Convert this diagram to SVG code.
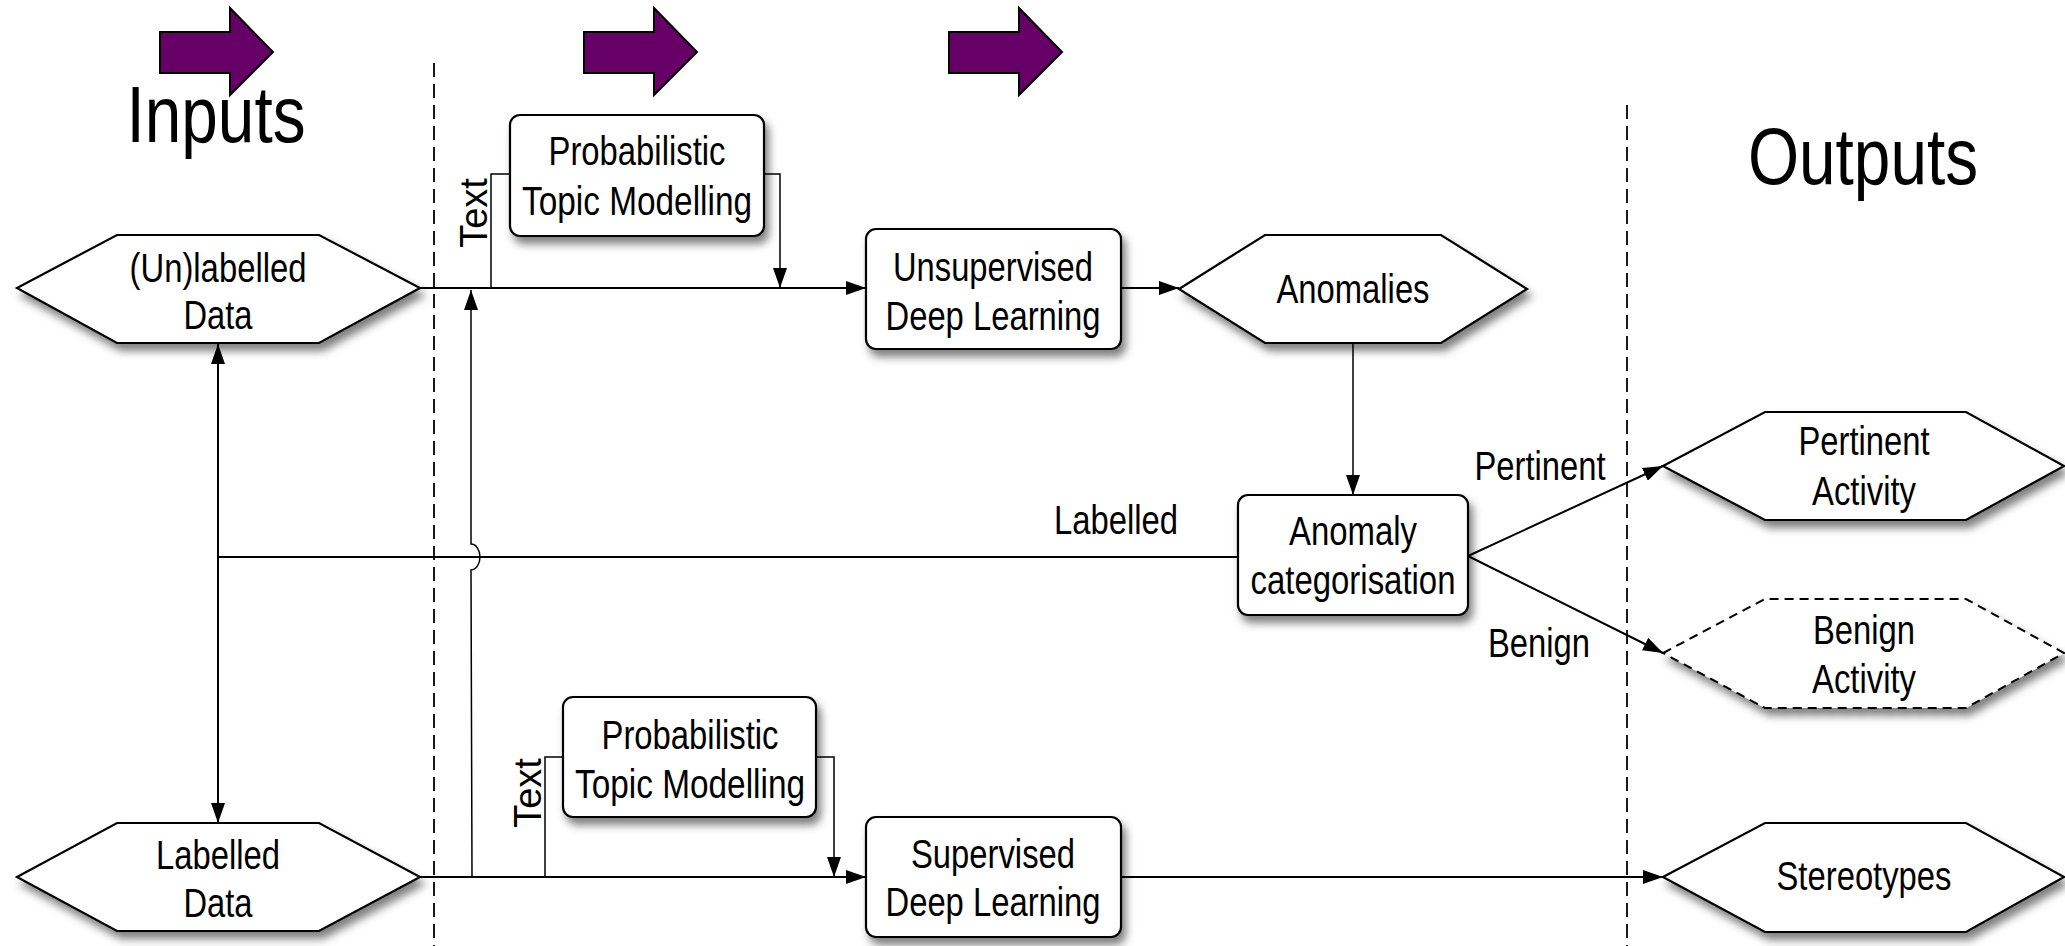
<svg xmlns="http://www.w3.org/2000/svg" width="2065" height="946" viewBox="0 0 2065 946">
<defs>
<style>
.n{fill:#fff;stroke:#000;stroke-width:2.2}
.nd{fill:#fff;stroke:#000;stroke-width:2;stroke-dasharray:9 6}
.t{font-family:"Liberation Sans Narrow","Liberation Sans",Arial,sans-serif;font-size:40px;fill:#000;text-anchor:middle}
.big{font-family:"Liberation Sans Narrow","Liberation Sans",Arial,sans-serif;font-size:80px;fill:#000;text-anchor:middle}
.tx{font-family:"Liberation Sans",Arial,sans-serif;font-size:38px;fill:#000;text-anchor:middle}
.c{fill:none;stroke:#000;stroke-width:2}
.ct{fill:none;stroke:#000;stroke-width:1.5}
.dl{fill:none;stroke:#000;stroke-width:1.8;stroke-dasharray:14 7}
.pa{fill:#660066;stroke:#000;stroke-width:2}
</style>
<filter id="sh" x="-10%" y="-15%" width="130%" height="150%">
<feDropShadow dx="4" dy="7" stdDeviation="4" flood-color="#000" flood-opacity="0.5"/>
</filter>
<marker id="ah" markerUnits="userSpaceOnUse" markerWidth="20" markerHeight="14" refX="20" refY="7" orient="auto-start-reverse">
<path d="M0,0 L20,7 L0,14 z" fill="#000"/>
</marker>
</defs>

<g id="phase-arrows">
<polygon class="pa" points="160,32 230,32 230,8 273,52 230,95 230,73 160,73"/>
<polygon class="pa" points="584,32 654,32 654,8 697,52 654,95 654,73 584,73"/>
<polygon class="pa" points="949,32 1019,32 1019,8 1062,52 1019,95 1019,73 949,73"/>
</g>

<g id="titles">
<text class="big" x="216" y="142" textLength="179" lengthAdjust="spacingAndGlyphs">Inputs</text>
<text class="big" x="1863" y="184" textLength="230" lengthAdjust="spacingAndGlyphs">Outputs</text>
</g>

<g id="dividers">
<line class="dl" x1="434" y1="63" x2="434" y2="946"/>
<line class="dl" x1="1627" y1="105" x2="1627" y2="946"/>
</g>

<g id="connectors">
<line class="c" x1="420" y1="288" x2="866" y2="288" marker-end="url(#ah)"/>
<polyline class="ct" points="491,288 491,174 510,174"/>
<polyline class="ct" points="764,174 780,174 780,288" marker-end="url(#ah)"/>
<line class="c" x1="1121" y1="288" x2="1179" y2="288" marker-end="url(#ah)"/>
<line class="ct" x1="1353" y1="343" x2="1353" y2="495" marker-end="url(#ah)"/>
<line class="c" x1="218" y1="344" x2="218" y2="823" marker-start="url(#ah)" marker-end="url(#ah)"/>
<line class="c" x1="218" y1="557" x2="1238" y2="557"/>
<path class="ct" d="M472,877 L471,570 A9,13 0 0 0 471,544 L471,290" marker-end="url(#ah)"/>
<line class="c" x1="1468" y1="556" x2="1663" y2="466" marker-end="url(#ah)"/>
<line class="c" x1="1468" y1="556" x2="1663" y2="653" marker-end="url(#ah)"/>
<line class="c" x1="420" y1="877" x2="866" y2="877" marker-end="url(#ah)"/>
<polyline class="ct" points="545,877 545,757 563,757"/>
<polyline class="ct" points="816,757 834,757 834,877" marker-end="url(#ah)"/>
<line class="c" x1="1121" y1="877" x2="1663" y2="877" marker-end="url(#ah)"/>
<text class="t" x="1116" y="534" textLength="124" lengthAdjust="spacingAndGlyphs">Labelled</text>
<text class="t" x="1540" y="480" textLength="131" lengthAdjust="spacingAndGlyphs">Pertinent</text>
<text class="t" x="1539" y="657" textLength="102" lengthAdjust="spacingAndGlyphs">Benign</text>
<text class="tx" transform="translate(487,213) rotate(-90)" x="0" y="0">Text</text>
<text class="tx" transform="translate(541,793) rotate(-90)" x="0" y="0">Text</text>
</g>

<g id="unlabelled-data">
<polygon class="n" filter="url(#sh)" points="17,288 117,235 319,235 420,288 319,343 117,343"/>
<text class="t" x="218" y="282" textLength="177" lengthAdjust="spacingAndGlyphs">(Un)labelled</text>
<text class="t" x="218" y="329" textLength="69" lengthAdjust="spacingAndGlyphs">Data</text>
</g>

<g id="labelled-data">
<polygon class="n" filter="url(#sh)" points="17,877 117,823 319,823 420,877 319,931 117,931"/>
<text class="t" x="218" y="869" textLength="124" lengthAdjust="spacingAndGlyphs">Labelled</text>
<text class="t" x="218" y="917" textLength="69" lengthAdjust="spacingAndGlyphs">Data</text>
</g>

<g id="ptm-top">
<rect class="n" filter="url(#sh)" x="510" y="115" width="254" height="121" rx="10"/>
<text class="t" x="637" y="165" textLength="177" lengthAdjust="spacingAndGlyphs">Probabilistic</text>
<text class="t" x="637" y="215" textLength="230" lengthAdjust="spacingAndGlyphs">Topic Modelling</text>
</g>

<g id="ptm-bottom">
<rect class="n" filter="url(#sh)" x="563" y="697" width="253" height="120" rx="10"/>
<text class="t" x="690" y="749" textLength="177" lengthAdjust="spacingAndGlyphs">Probabilistic</text>
<text class="t" x="690" y="798" textLength="230" lengthAdjust="spacingAndGlyphs">Topic Modelling</text>
</g>

<g id="unsupervised">
<rect class="n" filter="url(#sh)" x="866" y="229" width="255" height="120" rx="10"/>
<text class="t" x="993" y="281" textLength="200" lengthAdjust="spacingAndGlyphs">Unsupervised</text>
<text class="t" x="993" y="330" textLength="215" lengthAdjust="spacingAndGlyphs">Deep Learning</text>
</g>

<g id="supervised">
<rect class="n" filter="url(#sh)" x="866" y="817" width="255" height="120" rx="10"/>
<text class="t" x="993" y="868" textLength="164" lengthAdjust="spacingAndGlyphs">Supervised</text>
<text class="t" x="993" y="916" textLength="215" lengthAdjust="spacingAndGlyphs">Deep Learning</text>
</g>

<g id="anomalies">
<polygon class="n" filter="url(#sh)" points="1179,289 1265,235 1441,235 1527,289 1441,343 1265,343"/>
<text class="t" x="1353" y="303" textLength="153" lengthAdjust="spacingAndGlyphs">Anomalies</text>
</g>

<g id="anomaly-categorisation">
<rect class="n" filter="url(#sh)" x="1238" y="495" width="230" height="120" rx="10"/>
<text class="t" x="1353" y="545" textLength="128" lengthAdjust="spacingAndGlyphs">Anomaly</text>
<text class="t" x="1353" y="594" textLength="205" lengthAdjust="spacingAndGlyphs">categorisation</text>
</g>

<g id="pertinent-activity">
<polygon class="n" filter="url(#sh)" points="1663,466 1765,412 1966,412 2064,466 1966,520 1765,520"/>
<text class="t" x="1864" y="455" textLength="131" lengthAdjust="spacingAndGlyphs">Pertinent</text>
<text class="t" x="1864" y="505" textLength="104" lengthAdjust="spacingAndGlyphs">Activity</text>
</g>

<g id="benign-activity">
<polygon class="nd" filter="url(#sh)" points="1663,653 1765,599 1966,599 2064,653 1966,708 1765,708"/>
<text class="t" x="1864" y="644" textLength="102" lengthAdjust="spacingAndGlyphs">Benign</text>
<text class="t" x="1864" y="693" textLength="104" lengthAdjust="spacingAndGlyphs">Activity</text>
</g>

<g id="stereotypes">
<polygon class="n" filter="url(#sh)" points="1663,877 1765,823 1966,823 2064,877 1966,932 1765,932"/>
<text class="t" x="1864" y="890" textLength="175" lengthAdjust="spacingAndGlyphs">Stereotypes</text>
</g>
</svg>
